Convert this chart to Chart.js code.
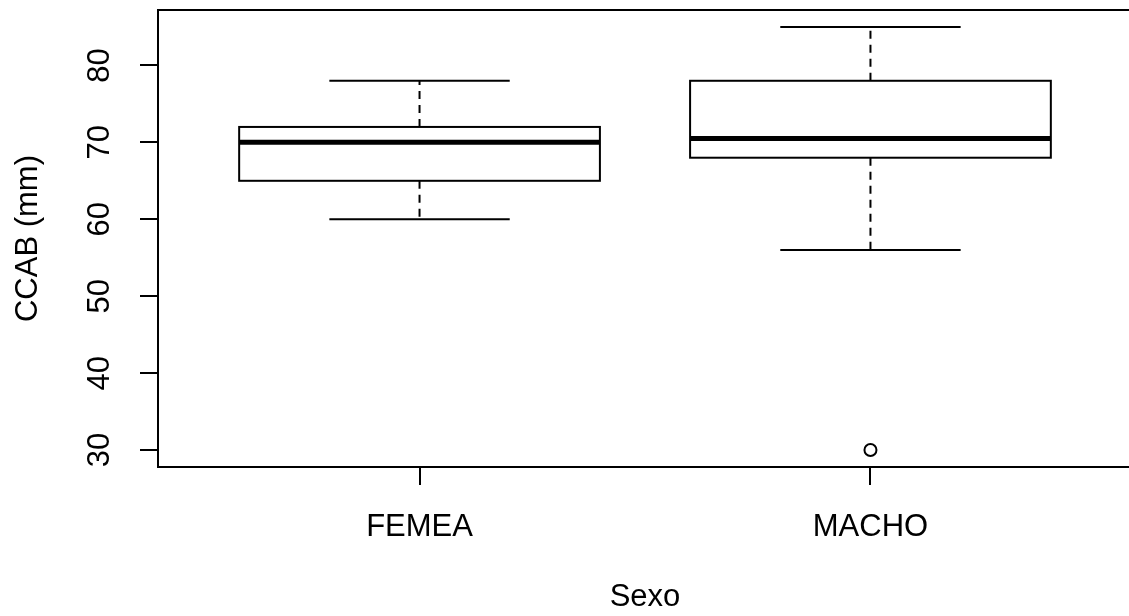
<!DOCTYPE html>
<html>
<head>
<meta charset="utf-8">
<script src="https://cdn.jsdelivr.net/npm/chart.js@4/dist/chart.umd.min.js"></script>
<style>
  html, body { margin: 0; padding: 0; background: #fff; overflow: hidden; }
  #wrap { width: 1140px; height: 616px; }
</style>
</head>
<body>
<div id="wrap"><canvas id="c" width="1140" height="616"></canvas></div>
<script>
// CCAB (mm) by sex: five-number summaries per group
const categories   = ['FEMEA', 'MACHO'];
const whiskerLow   = [60, 56];
const quartile1    = [65, 68];
const medians      = [70, 70.5];
const quartile3    = [72, 78];
const whiskerHigh  = [78, 85];
const outliers     = [[], [30]];
const yTicks       = [30, 40, 50, 60, 70, 80];

const FONT = { family: '"Liberation Sans", Arial, sans-serif', size: 31 };
const BOX_HALF = 0.4;   // half box width in category units
const CAP_HALF = 0.2;   // half whisker-cap width

const outlierPoints = outliers.flatMap((vals, i) => vals.map(v => ({ x: i + 1, y: v })));

// Draws the boxes, whiskers and the frame around the plotting region
const boxPlotPlugin = {
  id: 'boxPlot',
  afterDatasetsDraw(chart) {
    const { ctx, chartArea: a, scales: { x, y } } = chart;
    ctx.save();
    ctx.strokeStyle = '#000';
    ctx.lineCap = 'butt';
    categories.forEach((_, i) => {
      const c = i + 1;
      const cx = x.getPixelForValue(c);
      const bl = x.getPixelForValue(c - BOX_HALF);
      const br = x.getPixelForValue(c + BOX_HALF);
      const kl = x.getPixelForValue(c - CAP_HALF);
      const kr = x.getPixelForValue(c + CAP_HALF);
      const yLo = y.getPixelForValue(whiskerLow[i]);
      const yQ1 = y.getPixelForValue(quartile1[i]);
      const yMd = y.getPixelForValue(medians[i]);
      const yQ3 = y.getPixelForValue(quartile3[i]);
      const yHi = y.getPixelForValue(whiskerHigh[i]);

      // dashed whiskers
      ctx.lineWidth = 2;
      ctx.setLineDash([8, 6]);
      ctx.beginPath();
      ctx.moveTo(cx, yQ3); ctx.lineTo(cx, yHi);
      ctx.moveTo(cx, yQ1); ctx.lineTo(cx, yLo);
      ctx.stroke();
      ctx.setLineDash([]);

      // caps
      ctx.beginPath();
      ctx.moveTo(kl, yHi); ctx.lineTo(kr, yHi);
      ctx.moveTo(kl, yLo); ctx.lineTo(kr, yLo);
      ctx.stroke();

      // box
      ctx.strokeRect(bl, yQ3, br - bl, yQ1 - yQ3);

      // median
      ctx.lineWidth = 5;
      ctx.beginPath();
      ctx.moveTo(bl, yMd); ctx.lineTo(br, yMd);
      ctx.stroke();
    });
    // frame
    ctx.lineWidth = 2;
    ctx.strokeRect(a.left, a.top, a.right - a.left, a.bottom - a.top);
    ctx.restore();
  }
};

new Chart(document.getElementById('c'), {
  type: 'scatter',
  data: {
    datasets: [{
      data: outlierPoints,
      pointStyle: 'circle',
      pointRadius: 6,
      pointHoverRadius: 6,
      borderWidth: 2,
      borderColor: '#000',
      backgroundColor: 'rgba(0,0,0,0)'
    }]
  },
  options: {
    responsive: false,
    animation: false,
    layout: { padding: { top: 10, right: 8, left: 0, bottom: 0 } },
    plugins: { legend: { display: false }, tooltip: { enabled: false } },
    scales: {
      x: {
        type: 'linear',
        min: 0.42,
        max: 2.58,
        afterBuildTicks: s => { s.ticks = categories.map((_, i) => ({ value: i + 1 })); },
        afterFit: s => { s.height = 149; s.paddingLeft = 0; s.paddingRight = 0; },
        border: { display: true, color: '#000', width: 2 },
        grid: { drawOnChartArea: false, drawTicks: true, tickLength: 18, color: '#000', lineWidth: 2 },
        ticks: {
          color: '#000', font: FONT, padding: 24, maxRotation: 0, minRotation: 0, autoSkip: false,
          callback: v => categories[v - 1]
        },
        title: { display: true, text: 'Sexo', color: '#000', font: FONT, padding: { top: 0, bottom: 0 } }
      },
      y: {
        min: 27.8,
        max: 87.2,
        afterBuildTicks: s => { s.ticks = yTicks.map(v => ({ value: v })); },
        afterFit: s => { s.width = 158; s.paddingTop = 0; s.paddingBottom = 0; },
        border: { display: true, color: '#000', width: 2 },
        grid: { drawOnChartArea: false, drawTicks: true, tickLength: 18, color: '#000', lineWidth: 2 },
        ticks: {
          color: '#000', font: FONT, padding: 22, minRotation: 90, maxRotation: 90,
          crossAlign: 'center', autoSkip: false,
          callback: v => String(v)
        },
        title: { display: true, text: 'CCAB (mm)', color: '#000', font: FONT, padding: { top: 10, bottom: 0 } }
      }
    }
  },
  plugins: [boxPlotPlugin]
});
</script>
</body>
</html>
